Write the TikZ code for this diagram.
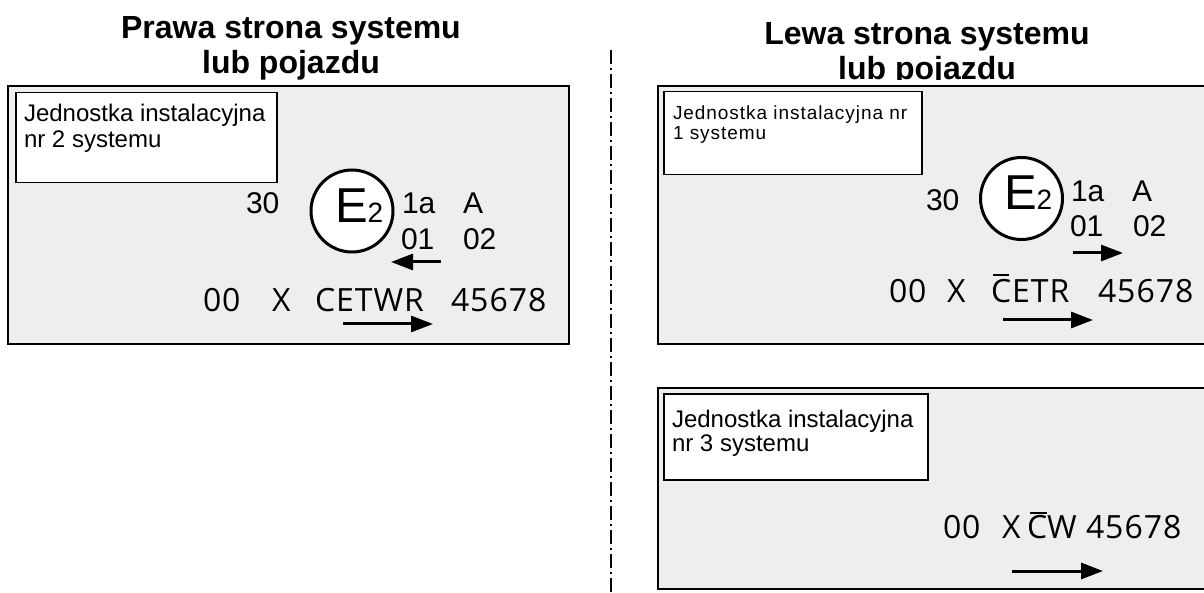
\documentclass[tikz,border=0pt]{standalone}
\usepackage{fontspec}
\setmainfont{Liberation Sans}
\newfontfamily\platefont[LetterSpace=3]{Open Sans}
\usetikzlibrary{arrows.meta}
\newcommand{\fsz}[1]{\fontsize{#1pt}{#1pt}\selectfont}
\definecolor{panelgray}{RGB}{238,238,238}
\begin{document}
\begin{tikzpicture}[x=1pt,y=-1pt,
  panel/.style={draw=black, line width=1.6pt, fill=panelgray},
  unitbox/.style={draw=black, line width=1.5pt, fill=white},
  txt/.style={inner sep=0pt, outer sep=0pt, anchor=base west},
  title/.style={inner sep=0pt, anchor=base, font=\fsz{32}\bfseries},
  unittxt/.style={txt, font=\fsz{24}},
  unitsmall/.style={txt, font=\fsz{19}\addfontfeature{LetterSpace=5}},
  num/.style={txt, font=\fsz{30}},
  plate/.style={txt, font=\fsz{32}\platefont},
  emark/.style={circle, draw=black, line width=3pt, fill=white, minimum size=82pt, inner sep=0pt},
  arr/.style={line width=3pt, -{Triangle[length=22pt,width=16pt]}},
  bar/.style={line width=2pt},
  axis/.style={line width=1.8pt, dash pattern=on 14pt off 4pt on 2pt off 4pt}
]
\path[use as bounding box] (0,0) rectangle (1204,593);
\clip (0,0) rectangle (1204,593);

% titles
\node[title] (t1a) at (291,39) {Prawa strona systemu};
\node[title] (t1b) at (291,74) {lub pojazdu};
\node[title] (t2a) at (927,45) {Lewa strona systemu};
\begin{scope}
\clip (700,50) rectangle (1150,79.5);
\node[title] (t2b) at (927,80) {lub pojazdu};
\end{scope}

% axis
\coordinate (ax1) at (611,50);
\coordinate (ax2) at (611,593);
\draw[axis] (ax1) -- (ax2);

% ---------- left panel ----------
\node[panel, minimum width=561pt, minimum height=258pt, inner sep=0pt, anchor=north west] (p1) at (7,85) {};
\node[unitbox, minimum width=261pt, minimum height=90pt, inner sep=0pt, anchor=north west] (u2) at (15,92) {};
\node[unittxt] (u2a) at (24,122) {Jednostka instalacyjna};
\node[unittxt] (u2b) at (24,148) {nr 2 systemu};

\node[num] (n30a) at (246,214) {30};
\node[emark] (m1) at (352,211) {};
\node[txt] (e1) at (335,223) {\fsz{49}E\fsz{28}2};
\node[num] (n1a) at (402,214) {1a};
\node[num] (nA1) at (463,214) {A};
\node[num] (n01a) at (401,250) {01};
\node[num] (n02a) at (463,250) {02};
\coordinate (la1) at (441,262);
\coordinate (la2) at (391,262);
\draw[arr] (la1) -- (la2);

\node[plate] (q00a) at (203,312) {00};
\node[plate] (qXa) at (272,312) {X};
\node[plate] (qCa) at (315,312) {CETWR};
\node[plate] (q45a) at (451,312) {45678};
\coordinate (lb1) at (343,324);
\coordinate (lb2) at (433,324);
\draw[arr] (lb1) -- (lb2);

% ---------- right top panel ----------
\node[panel, minimum width=560pt, minimum height=258pt, inner sep=0pt, anchor=north west] (p2) at (657,85) {};
\node[unitbox, minimum width=258pt, minimum height=83pt, inner sep=0pt, anchor=north west] (u1) at (663,91) {};
\node[unitsmall] (u1a) at (673,120) {Jednostka instalacyjna nr};
\node[unitsmall] (u1b) at (673,140) {1 systemu};

\node[num] (n30b) at (926,211) {30};
\node[emark] (m2) at (1021.5,198.5) {};
\node[txt] (e2) at (1004,210) {\fsz{49}E\fsz{28}2};
\node[num] (n1b) at (1071,202) {1a};
\node[num] (nA2) at (1132,202) {A};
\node[num] (n01b) at (1070,237) {01};
\node[num] (n02b) at (1133,237) {02};
\coordinate (ra1) at (1073,253);
\coordinate (ra2) at (1123,253);
\draw[arr] (ra1) -- (ra2);

\node[plate] (q00b) at (889,303) {00};
\node[plate] (qXb) at (947,303) {X};
\node[plate] (qCb) at (991,303) {CETR};
\coordinate (ob1) at (993,275);
\coordinate (ob2) at (1009,275);
\draw[bar] (ob1) -- (ob2);
\node[plate] (q45b) at (1098,303) {45678};
\coordinate (rb1) at (1003,320);
\coordinate (rb2) at (1093,320);
\draw[arr] (rb1) -- (rb2);

% ---------- right bottom panel ----------
\node[panel, minimum width=560pt, minimum height=201pt, inner sep=0pt, anchor=north west] (p3) at (657,387) {};
\node[unitbox, minimum width=264pt, minimum height=86pt, inner sep=0pt, anchor=north west] (u3) at (663,393) {};
\node[unittxt] (u3a) at (672,427) {Jednostka instalacyjna};
\node[unittxt] (u3b) at (672,451) {nr 3 systemu};

\node[plate] (q00c) at (943,538) {00};
\node[plate] (qXc) at (1002,538) {X};
\node[plate] (qCc) at (1027,538) {C};
\coordinate (oc1) at (1030,513);
\coordinate (oc2) at (1047,513);
\draw[bar] (oc1) -- (oc2);
\node[plate] (qWc) at (1047,538) {W};
\node[plate] (q45c) at (1086,538) {45678};
\coordinate (rc1) at (1012,571);
\coordinate (rc2) at (1103,571);
\draw[arr] (rc1) -- (rc2);
\end{tikzpicture}
\end{document}
